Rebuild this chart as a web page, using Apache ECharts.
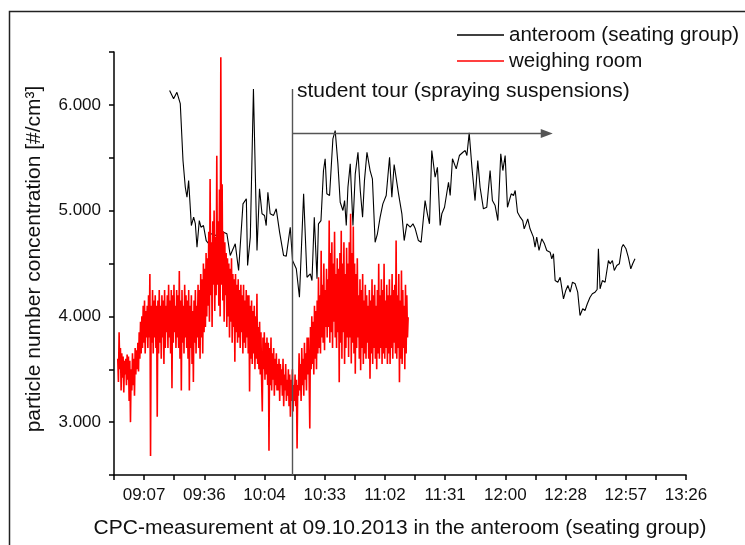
<!DOCTYPE html>
<html><head><meta charset="utf-8">
<script src="https://cdn.jsdelivr.net/npm/echarts@6/dist/echarts.min.js"></script>
<style>html,body{margin:0;padding:0;background:#fff}#c{width:745px;height:545px}</style>
</head><body><div id="c"></div>
<script>
const FONT = '"Liberation Sans", Arial, Helvetica, sans-serif';
const seriesNames = ['anteroom (seating group)', 'weighing room'];
const xAxisTitle = 'CPC-measurement at 09.10.2013 in the anteroom (seating group)';
const yAxisTitle = 'particle number concentration [#/cm\u00B3]';

// anteroom: time in minutes after midnight, values in #/cm3
const anteroomTimeMin = [559.4,561.3,562.9,564.5,565.8,566.9,567.7,568.5,569.8,570.9,
571.7,572.5,573.6,574.4,575.6,576.9,578.0,578.8,581.7,583.1,
585.2,586.8,588.4,590.8,592.4,594.5,596.1,596.7,598.0,599.5,
601.2,602.4,603.6,604.8,605.6,606.4,607.5,609.1,610.4,612.0,
613.9,615.2,617.1,618.2,620.0,621.5,623.5,625.1,626.7,627.5,
628.6,629.9,630.6,631.8,633.0,633.8,634.6,635.9,637.5,638.6,
639.9,641.0,642.3,643.1,643.9,644.7,645.8,647.1,648.2,649.5,
650.6,651.7,652.6,653.8,655.3,656.4,657.7,658.8,660.1,661.4,
663.0,664.6,665.7,666.8,668.9,670.5,671.6,672.9,674.5,675.8,
676.9,678.4,679.7,681.6,682.7,683.7,684.8,686.4,687.5,688.8,
689.6,690.9,692.8,693.6,694.7,696.5,698.0,699.7,700.8,701.6,
702.7,704.0,705.5,706.8,707.9,709.5,711.1,712.7,713.8,715.1,
716.4,717.8,718.8,719.9,721.0,721.9,722.8,723.9,724.7,725.8,
727.1,728.3,729.0,729.9,730.7,731.8,733.4,734.2,735.0,736.1,
737.4,738.7,739.8,741.4,742.2,743.0,743.8,745.1,746.2,747.8,
748.9,749.9,751.0,752.1,753.4,754.6,755.7,757.0,758.1,759.2,
760.5,761.6,762.9,763.9,764.5,765.3,766.4,767.7,769.3,770.1,
771.2,772.1,773.3,774.5,775.7,776.4,777.7,778.8,780.0,780.9,
782.0];
const anteroomValue = [6135,6057,6119,6012,5474,5221,5127,5284,4859,4938,
4878,4654,4906,4843,4859,4717,4689,4784,4765,4831,
4796,4781,4576,4686,4434,5064,5112,4481,4749,6151,
4623,5206,4970,4954,4859,5174,4970,4955,5017,4796,
4576,4570,4843,4528,4450,4181,5159,4370,4403,4339,
4938,4355,4875,4906,5379,5490,5159,5143,5679,5757,
5442,5079,5001,5095,4859,5221,5442,4859,5348,5552,
5190,4938,5284,5552,5379,5301,4701,4781,4938,5064,
5143,5505,5127,5436,5159,4970,4717,4875,4843,4875,
4828,4717,4701,5095,4970,4875,5568,5316,5410,4859,
4970,5032,5268,5143,5490,5395,5521,5552,5568,5521,
5735,5410,5095,5474,5221,5017,5032,5379,5095,5048,
4906,5537,5379,5521,5032,5017,5159,5143,5190,4985,
4938,4906,4828,4875,4922,4828,4749,4654,4749,4623,
4733,4686,4623,4607,4544,4592,4339,4323,4370,4166,
4245,4292,4229,4323,4308,4229,4008,4072,4056,4119,
4181,4214,4229,4254,4639,4261,4339,4323,4528,4497,
4528,4434,4481,4497,4654,4680,4639,4560,4450,4497,
4544];

// weighing room: evenly logged between start and end time (minutes after midnight)
const weighingStartMin = 534.6;
const weighingEndMin = 673.5;
const weighingValue = [
3600,3380,3850,3500,3700,3300,3650,3420,3620,3280,3580,3450,3600,3350,3640,
3400,3620,3200,3580,3000,3500,3300,3650,3350,3600,3250,3700,3450,3680,3500,
3750,3480,3850,3600,3950,3650,4000,3700,4100,3750,4150,3650,4050,3800,4100,
3700,4200,3800,4400,2680,4100,3750,4250,3650,4150,3800,4200,3700,4100,3050,
4150,3650,4250,3750,4100,3600,4200,3800,4150,3550,4250,3700,4100,3850,4200,
3700,4300,3800,4150,3650,4250,3320,4200,3750,4300,3850,4100,3700,4250,3800,
4200,3700,4430,3600,4150,3300,4250,3750,4100,3650,4300,3800,4200,3700,4150,
3600,4250,3300,4100,3700,4200,3550,4050,3380,4150,3750,4250,3650,4100,3800,
4300,3700,4250,3600,4400,3800,4350,3650,4500,3850,4450,3900,4600,4000,4550,
4100,4800,3950,5300,4200,4700,3900,4900,4300,5000,4050,4750,4200,5520,4300,
4900,4100,5200,4000,6450,4300,5250,4150,4800,3950,4700,4200,4600,3900,4550,
4000,4500,3800,4450,3950,4550,3750,4400,3900,4350,3570,4400,3850,4300,3750,
4350,3800,4250,3700,4300,3850,4200,3650,4300,3750,4150,3700,4250,3800,4200,
3650,4200,3290,4100,3600,4150,3550,4050,3650,4100,3500,4000,3600,4215,3550,
3900,3500,3950,3450,3850,3400,3100,3800,3500,3850,3400,3750,3450,3800,3350,
3750,2730,3700,3350,3800,3300,3650,3400,3700,3250,3600,3350,3650,3300,3550,
3300,3600,3200,3550,3350,3500,3250,3600,3150,3450,3300,3550,3200,3400,3250,
3500,3150,3450,3050,3400,3200,3500,3100,3350,3200,3450,3150,3400,2750,3350,
3250,3650,3300,3550,3200,3700,3350,3600,3250,3750,3400,3650,3300,3800,3450,
3800,3450,2940,3900,3500,4000,3550,3950,3450,4100,3600,4050,3500,4150,3650,
4370,3700,4200,3650,4620,3800,4300,3750,4500,3680,4250,3900,4450,3800,4350,
3900,4906,3750,4600,3850,4700,3700,4500,3950,4800,3800,4400,3700,4550,3850,
4450,3378,4600,3750,4810,3600,4500,3850,4700,3550,4400,3700,4650,3800,4500,
3615,4700,3800,4970,3555,4600,3750,4850,3650,4500,3457,4400,3700,4550,3800,
4200,3600,4350,3490,4250,3700,4400,3550,4150,3650,4300,3600,4200,3750,4100,
3600,4250,3410,4150,3650,4350,3550,4200,3700,4300,3600,4100,3500,4250,3650,
4497,3600,4200,3700,4350,3550,4250,3650,4497,3600,4150,3700,4300,3550,4200,
3650,4350,3550,4200,3700,4400,3600,4250,3750,4300,3650,4717,3600,4200,3700,
4400,3378,4150,3600,4434,3550,4250,3700,4100,3500,4300,3650,4200,3800,3993];

// annotation: student tour
const tourLabel = 'student tour (spraying suspensions)';
const tourStartMin = 618.1;
const tourArrowEndMin = 739.8;
const tourArrowLevel = 5730;
const tourLineTop = 6150;
const tourLineBottom = 2500;

// axes (x ticks every 0.01 day = 14.4 minutes)
const minutesPerXUnit = 14.4;
const xMinUnit = 37, xMaxUnit = 56, xStepUnit = 1;
const yMin = 2500, yMax = 6500, yStep = 500;

const toX = t => t / minutesPerXUnit;
const pad = n => (n < 10 ? '0' : '') + n;

const anteroomData = anteroomTimeMin.map((t, i) => [toX(t), anteroomValue[i]]);
const wStep = (weighingEndMin - weighingStartMin) / (weighingValue.length - 1);
const weighingData = weighingValue.map((v, i) => [toX(weighingStartMin + i * wStep), v]);

const chart = echarts.init(document.getElementById('c'), null, {renderer: 'canvas'});
const txt = '#111';
chart.setOption({
  animation: false,
  backgroundColor: '#fff',
  grid: {left: 114, right: 59, top: 52, bottom: 70, containLabel: false},
  legend: {
    data: seriesNames, orient: 'vertical', left: 457, top: 22, padding: 0,
    itemWidth: 47, itemHeight: 1.4, itemGap: 0, icon: 'rect',
    textStyle: {fontFamily: FONT, fontSize: 20.5, color: txt, lineHeight: 26}
  },
  xAxis: {
    type: 'value', min: xMinUnit, max: xMaxUnit, interval: xStepUnit,
    axisLine: {lineStyle: {color: '#000', width: 1.5}},
    axisTick: {length: 5, lineStyle: {color: '#000', width: 1.5}},
    splitLine: {show: false},
    axisLabel: {
      margin: 12, fontFamily: FONT, fontSize: 17, color: txt,
      formatter: u => {
        if (Math.round(u) % 2 !== 0) return '';
        const m = Math.floor(u * minutesPerXUnit + 1e-6);
        return pad(Math.floor(m / 60)) + ':' + pad(m % 60);
      }
    },
    name: xAxisTitle, nameLocation: 'middle', nameGap: 43,
    nameTextStyle: {fontFamily: FONT, fontSize: 21, color: txt}
  },
  yAxis: {
    type: 'value', min: yMin, max: yMax, interval: yStep,
    axisLine: {show: true, lineStyle: {color: '#000', width: 1.5}},
    axisTick: {show: true, length: 5, lineStyle: {color: '#000', width: 1.5}},
    splitLine: {show: false},
    axisLabel: {
      margin: 13, fontFamily: FONT, fontSize: 17, color: txt,
      formatter: v => (v % 1000 === 0 ? (v / 1000) + '.000' : '')
    }
  },
  graphic: [
    {type: 'rect', left: 7, top: 9, z: -1, silent: true,
     shape: {width: 760, height: 560}, style: {fill: 'none', stroke: '#222', lineWidth: 1.5}},
    {type: 'text', left: 297, top: 81, silent: true,
     style: {text: tourLabel, fontFamily: FONT, fontSize: 21, fill: txt}},
    {type: 'text', x: 34, y: 259, rotation: Math.PI / 2, silent: true,
     style: {text: yAxisTitle, fontFamily: FONT, fontSize: 21, fill: txt, align: 'center', verticalAlign: 'middle'}}
  ],
  series: [
    {
      name: seriesNames[0], type: 'line', data: anteroomData, symbol: 'none',
      lineStyle: {color: '#000', width: 1.1}, itemStyle: {color: '#000'}, z: 2,
      markLine: {
        silent: true, animation: false, symbol: ['none', 'none'], label: {show: false},
        lineStyle: {color: '#555', width: 1.4, type: 'solid'},
        data: [
          [{coord: [toX(tourStartMin), tourLineBottom], symbol: 'none'},
           {coord: [toX(tourStartMin), tourLineTop], symbol: 'none'}],
          [{coord: [toX(tourStartMin), tourArrowLevel], symbol: 'none'},
           {coord: [toX(tourArrowEndMin), tourArrowLevel], symbol: 'triangle', symbolSize: [9, 12]}]
        ]
      }
    },
    {
      name: seriesNames[1], type: 'line', data: weighingData, symbol: 'none',
      lineStyle: {color: '#ff0000', width: 1.6}, itemStyle: {color: '#ff0000'}, z: 3
    }
  ]
});
</script>
</body></html>
